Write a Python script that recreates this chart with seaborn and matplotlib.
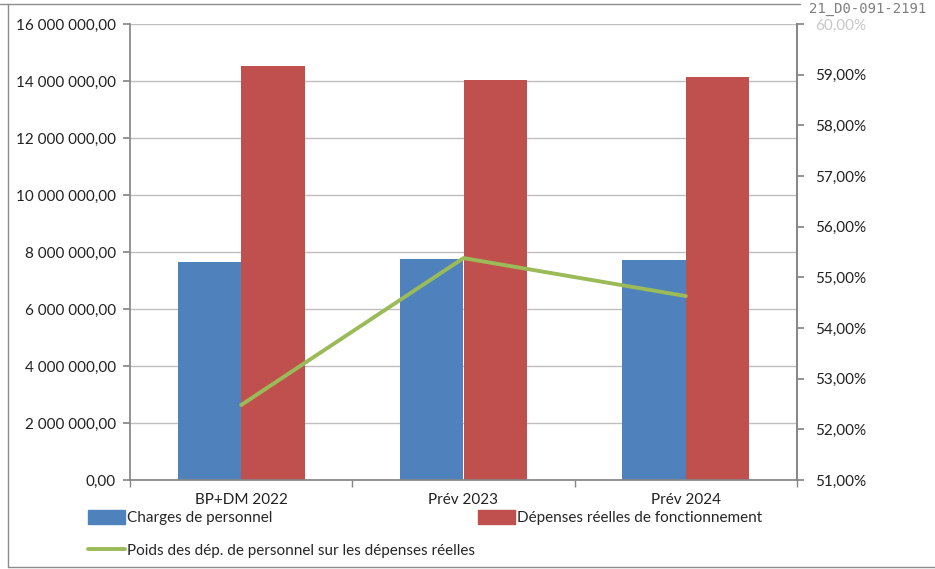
import numpy as np
import pandas as pd
import matplotlib
matplotlib.use("Agg")
import matplotlib.pyplot as plt
from matplotlib.ticker import FuncFormatter, FixedLocator, MultipleLocator
from matplotlib.patches import Patch
from matplotlib.lines import Line2D
import seaborn as sns

categories = ["BP+DM 2022", "Prév 2023", "Prév 2024"]
charges_personnel = [7650000, 7750000, 7720000]
depenses_reelles = [14530000, 14030000, 14140000]
poids_pct = [52.48, 55.38, 54.63]
series_names = ["Charges de personnel", "Dépenses réelles de fonctionnement"]
line_name = "Poids des dép. de personnel sur les dépenses réelles"

BLUE = "#4F81BD"
RED = "#C0504D"
GREEN = "#9BBB59"
GRID = "#BFBFBF"
AXIS = "#868686"
FS = 11

sns.set_theme(style="white")
plt.rcParams['font.family'] = ['Lato', 'DejaVu Sans']

df = pd.DataFrame({
    "cat": categories * 2,
    "val": charges_personnel + depenses_reelles,
    "serie": [series_names[0]] * 3 + [series_names[1]] * 3,
})

fig = plt.figure(figsize=(9.35, 5.69), dpi=100)
ax = fig.add_axes([130/935, 1-480/569, (797-130)/935, (480-24)/569])

sns.barplot(data=df, x="cat", y="val", hue="serie", palette=[BLUE, RED],
            width=0.57, saturation=1, ax=ax, legend=False, errorbar=None,
            linewidth=0)
ax.set_xlim(-0.5, 2.5)
ax.set_ylim(0, 16000000)
ax.yaxis.set_major_locator(MultipleLocator(2000000))
ax.yaxis.set_major_formatter(FuncFormatter(
    lambda v, p: f"{v:,.2f}".replace(",", " ").replace(".", ",")))
ax.grid(axis="y", color=GRID, linewidth=1)
ax.set_axisbelow(True)
ax.set_xlabel("")
ax.set_ylabel("")
for s in ["left", "bottom", "right", "top"]:
    ax.spines[s].set_color(AXIS)
ax.spines["top"].set_visible(False)
ax.tick_params(axis="y", which="major", length=5, color=AXIS, direction="out",
               labelsize=FS, labelcolor="#222222", left=True, pad=5)
ax.tick_params(axis="x", which="major", length=0, labelsize=FS,
               labelcolor="#222222", pad=9)
ax.xaxis.set_minor_locator(FixedLocator([-0.5, 0.5, 1.5, 2.5]))
ax.tick_params(axis="x", which="minor", length=5, color=AXIS, direction="out",
               bottom=True)

ax2 = ax.twinx()
xpos = np.arange(len(categories))
sns.lineplot(x=xpos, y=poids_pct, color=GREEN, linewidth=2.8, ax=ax2,
             legend=False)
ax2.set_ylim(51, 60)
ax2.yaxis.set_major_locator(MultipleLocator(1))
ax2.yaxis.set_major_formatter(FuncFormatter(
    lambda v, p: f"{v:.2f}%".replace(".", ",")))
ax2.tick_params(axis="y", length=5, color=AXIS, direction="out",
                labelsize=FS, labelcolor="#222222", right=True, pad=8)
for s in ["left", "bottom", "right", "top"]:
    ax2.spines[s].set_visible(False)
ax2.spines["right"].set_visible(True)
ax2.spines["right"].set_color(AXIS)
ax2.set_ylabel("")
ax2.grid(False)
fig.canvas.draw()
for lbl in ax2.get_yticklabels():
    if lbl.get_text().startswith("60"):
        lbl.set_color("#C8C8C8")

handles = [
    Patch(facecolor=BLUE, edgecolor=BLUE, label=series_names[0]),
    Line2D([0], [0], color=GREEN, linewidth=2.8, label=line_name),
    Patch(facecolor=RED, edgecolor=RED, label=series_names[1]),
]
fig.legend(handles=handles, ncol=2, loc="upper left",
           bbox_to_anchor=(88/935, 1-510/569), frameon=False,
           fontsize=FS, handlelength=2.4, handleheight=1.0,
           handletextpad=0.15, columnspacing=0.2, labelspacing=1.2,
           borderaxespad=0, borderpad=0)

# outer frame of the chart
fig.add_artist(Line2D([0, 800/935], [1-4/569, 1-4/569], color="#8C8C8C",
                      linewidth=1, transform=fig.transFigure))
fig.add_artist(Line2D([8/935, 8/935], [1-4/569, 1-567/569], color="#8C8C8C",
                      linewidth=1, transform=fig.transFigure))
fig.add_artist(Line2D([8/935, 1], [1-567/569, 1-567/569], color="#8C8C8C",
                      linewidth=1, transform=fig.transFigure))
fig.text(868/935, 1-9/569, "21_D0-091-2191", family="DejaVu Sans Mono",
         fontsize=10, color="#7F7F7F", ha="center", va="center")

fig.savefig("out.png", dpi=100)
